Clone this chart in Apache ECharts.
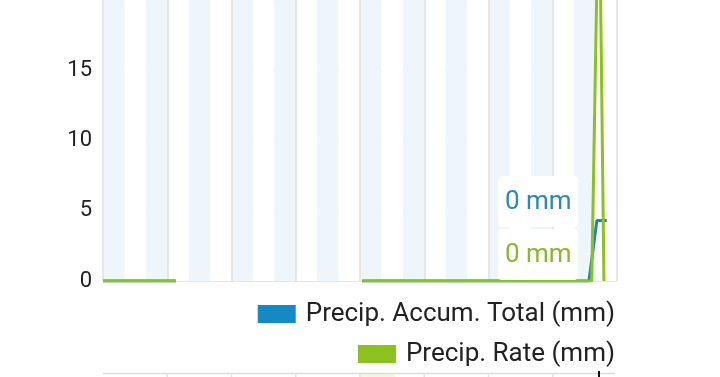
<!DOCTYPE html>
<html>
<head>
<meta charset="utf-8">
<script src="https://cdn.jsdelivr.net/npm/echarts@6/dist/echarts.min.js"></script>
<style>html,body{margin:0;padding:0;background:#fff;}#c{width:720px;height:377px;}</style>
</head>
<body>
<div id="c"></div>
<script>
// hours of the day (x positions of data points)
const rateHours  = [0, 3.4, 3.45, 12.1, 22.82, 23.16, 23.39];
const rateValues = [0, 0, '-', 0, 0, 30, 0];
const accumHours  = [0, 3.4, 3.45, 12.1, 22.69, 23.06, 23.52];
const accumValues = [0, 0, '-', 0, 0, 4.3, 4.3];
const yTicks = [0, 5, 10, 15, 20];
const seriesNames = ['Precip. Accum. Total (mm)', 'Precip. Rate (mm)'];
const currentLabels = ['0 mm', '0 mm'];

const BLUE = '#1a87b5';
const GREEN = '#8cc21f';

const chart = echarts.init(document.getElementById('c'), null, {renderer: 'canvas'});
const pair = (xs, ys) => xs.map((x, i) => [x, ys[i]]);
const L = 103, R = 617;
const gridXs = [];
for (let h = 0; h <= 24; h += 3) gridXs.push(L + (R - L) * h / 24);

chart.setOption({
  animation: false,
  textStyle: {fontFamily: 'Roboto'},
  grid: {left: L, right: 720 - R, top: -1, height: 282},
  xAxis: [
    {type: 'value', min: 0, max: 24, interval: 1, axisLine: {show: false}, axisTick: {show: false}, axisLabel: {show: false},
     splitLine: {show: false}, splitArea: {show: true, areaStyle: {color: ['#eef5fb', '#ffffff']}}},
    {type: 'value', min: 0, max: 24, interval: 3, axisLine: {show: false}, axisTick: {show: false}, axisLabel: {show: false},
     splitLine: {show: true, lineStyle: {color: '#e6e6e6', width: 2}}}
  ],
  yAxis: {type: 'value', min: 0, max: 20, interval: 5,
    axisLine: {show: false}, axisTick: {show: false},
    splitLine: {lineStyle: {color: '#e6e6e6', width: 2}},
    axisLabel: {color: '#222', fontSize: 22, margin: 11, fontFamily: 'Roboto', padding: [3, 0, 0, 0],
      formatter: v => (yTicks.indexOf(v) >= 0 && v < 20) ? String(v) : ''}},
  legend: [
    {data: [seriesNames[0]], right: 105, top: 301, padding: 0, icon: 'rect', itemWidth: 38, itemHeight: 18,
     textStyle: {fontSize: 26, lineHeight: 26, color: '#222', fontFamily: 'Roboto', padding: [0, 0, 0, 5]}},
    {data: [seriesNames[1]], right: 105, top: 341, padding: 0, icon: 'rect', itemWidth: 38, itemHeight: 18,
     textStyle: {fontSize: 26, lineHeight: 26, color: '#222', fontFamily: 'Roboto', padding: [0, 0, 0, 5]}}
  ],
  series: [
    {name: seriesNames[0], type: 'line', data: pair(accumHours, accumValues), symbol: 'none',
     color: '#1589c4', lineStyle: {color: BLUE, width: 3}, connectNulls: false, z: 2},
    {name: seriesNames[1], type: 'line', data: pair(rateHours, rateValues), symbol: 'none',
     color: GREEN, lineStyle: {color: GREEN, width: 3}, connectNulls: false, z: 3}
  ],
  graphic: [
    {type: 'rect', shape: {x: 498, y: 176, width: 80, height: 51, r: 4}, style: {fill: '#fff'}, z: 10},
    {type: 'rect', shape: {x: 498, y: 229, width: 80, height: 51, r: 4}, style: {fill: '#fff'}, z: 10},
    {type: 'text', left: 505, top: 189, z: 11, style: {text: currentLabels[0], fill: '#2a8ab0', fontSize: 26, fontFamily: 'Roboto'}},
    {type: 'text', left: 505, top: 242, z: 11, style: {text: currentLabels[1], fill: '#8db62f', fontSize: 26, fontFamily: 'Roboto'}},
    {type: 'rect', shape: {x: 361, y: 374, width: 34, height: 3}, style: {fill: '#f4fad6'}, z: 1},
    {type: 'line', shape: {x1: L, y1: 373.5, x2: 615, y2: 373.5}, style: {stroke: '#dcdcdc', lineWidth: 1.5}, z: 2},
    ...gridXs.slice(1, 8).map(x => ({type: 'line', shape: {x1: x, y1: 374, x2: x, y2: 377}, style: {stroke: '#e2e2e2', lineWidth: 1.5}, z: 2})),
    {type: 'rect', shape: {x: 598, y: 371, width: 2, height: 6}, style: {fill: '#111'}, z: 3}
  ]
});
</script>
</body>
</html>
